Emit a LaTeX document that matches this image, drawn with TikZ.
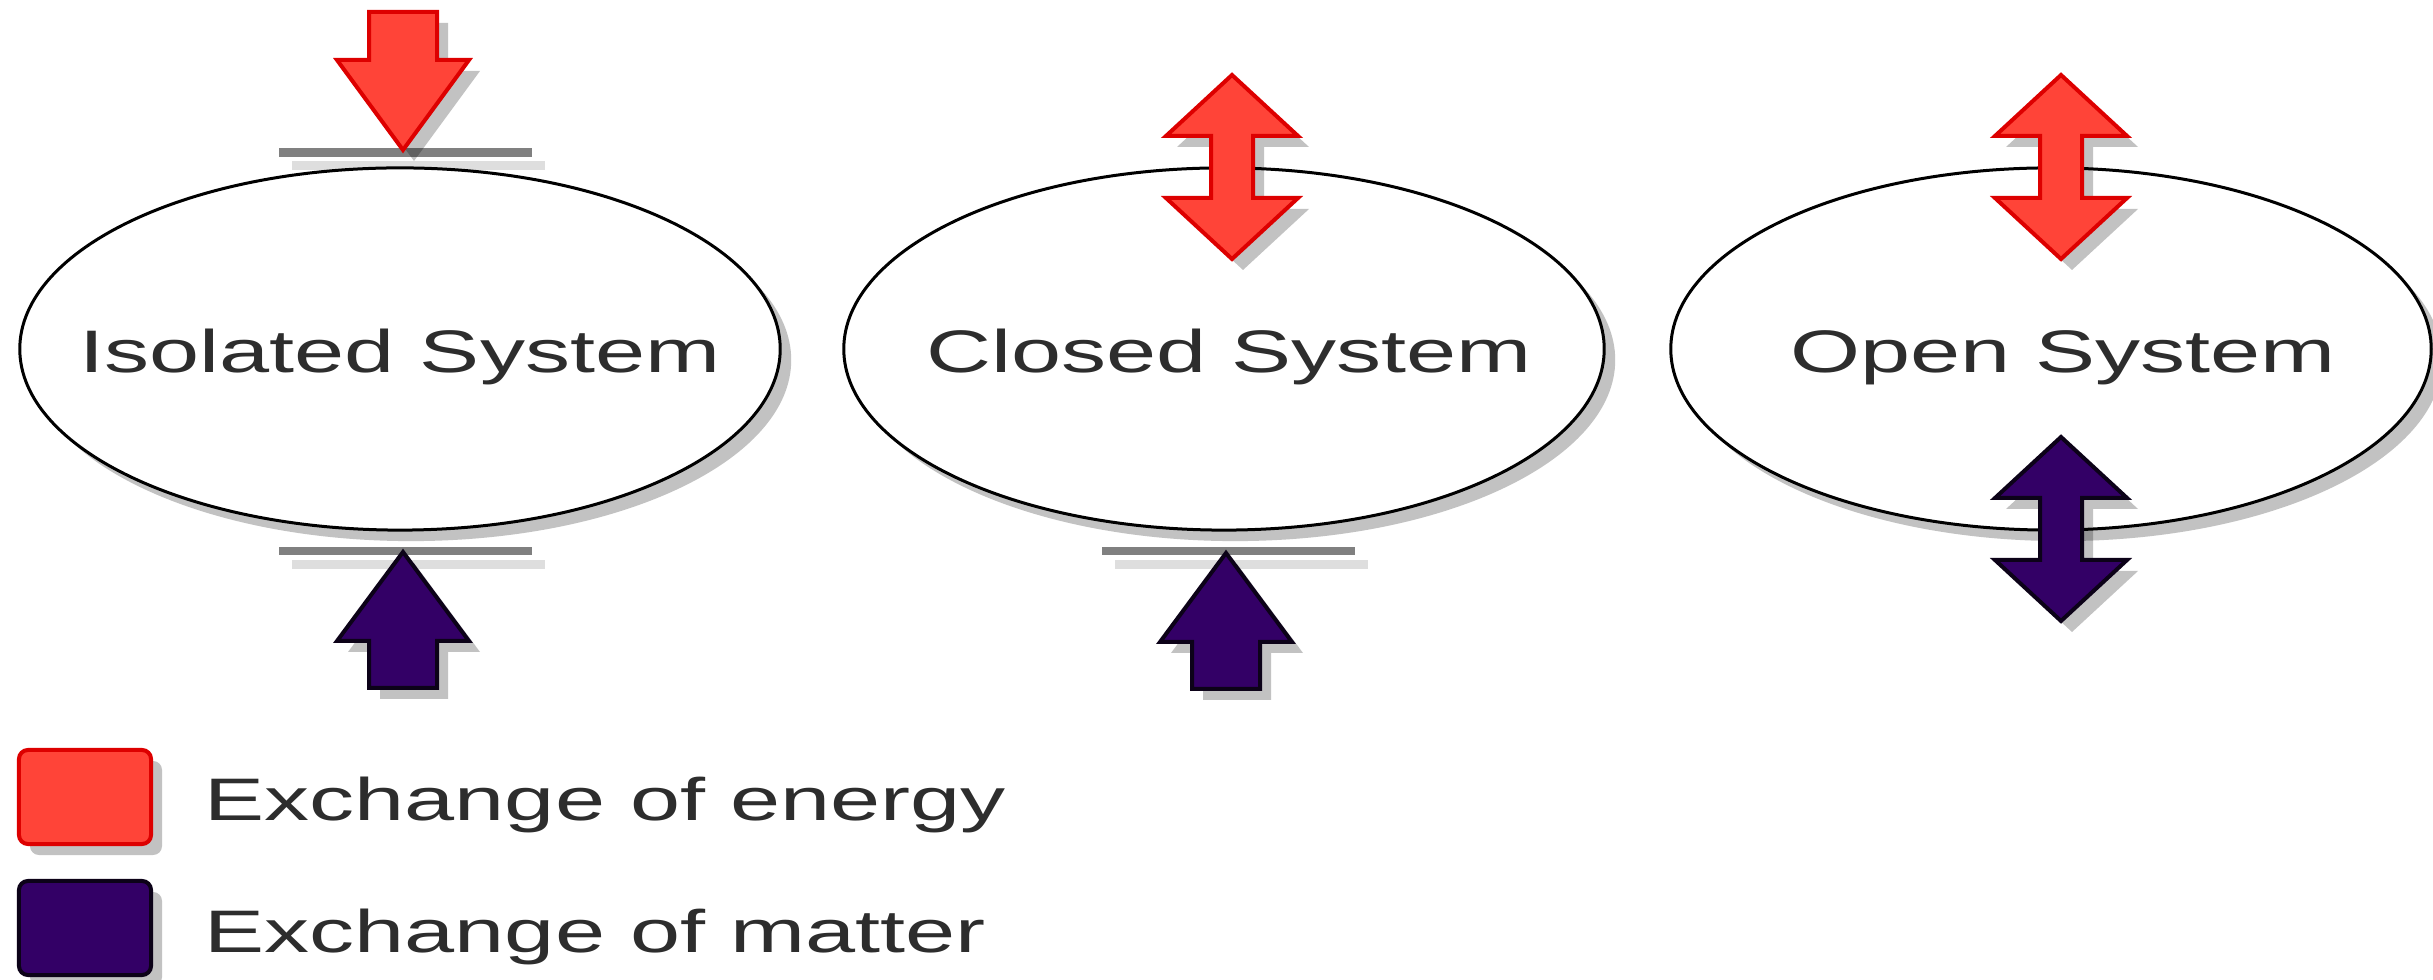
\documentclass[tikz,border=0pt]{standalone}
\usepackage{fontspec}
\setmainfont{Liberation Sans}
\usetikzlibrary{shapes.geometric,shadows}
\definecolor{ered}{RGB}{255,68,56}
\definecolor{eredb}{RGB}{221,0,0}
\definecolor{mpur}{RGB}{51,0,102}
\definecolor{mpurb}{RGB}{12,2,24}
\definecolor{barc}{RGB}{128,128,128}
\definecolor{barl}{RGB}{222,222,222}
\definecolor{txt}{RGB}{45,45,45}
\newcommand\wide[1]{\scalebox{1.5}[1]{#1}}
\tikzset{
  shd/.style={drop shadow={shadow xshift=0.11cm, shadow yshift=-0.11cm, fill=black, opacity=0.24}},
  sys/.style={ellipse, draw=black, fill=white, line width=0.03cm, minimum width=7.6cm, minimum height=3.62cm, inner sep=0pt, outer sep=0pt, shd},
  lbl/.style={text=txt, font=\fontsize{17.07}{20}\selectfont, inner sep=0pt},
  shade/.style={fill=black, fill opacity=0.24, shift={(11,11)}},
  energy/.style={fill=ered, draw=eredb, line width=0.04cm, line join=miter},
  matter/.style={fill=mpur, draw=mpurb, line width=0.04cm, line join=miter},
  legbox/.style={rectangle, rounded corners=0.09cm, minimum width=1.32cm, minimum height=0.94cm, line width=0.04cm, inner sep=0pt, shd},
}
\newcommand\downarr[3]{%
  \begin{scope}[shift={(#1,#2)}]
    \fill[shade] (0,0) -- (-66,-90) -- (-34,-90) -- (-34,-138) -- (34,-138) -- (34,-90) -- (66,-90) -- cycle;
    \draw[#3] (0,0) -- (-66,-90) -- (-34,-90) -- (-34,-138) -- (34,-138) -- (34,-90) -- (66,-90) -- cycle;
  \end{scope}}
\newcommand\uparr[3]{%
  \begin{scope}[shift={(#1,#2)}]
    \fill[shade] (0,0) -- (-66,89) -- (-34,89) -- (-34,136) -- (34,136) -- (34,89) -- (66,89) -- cycle;
    \draw[#3] (0,0) -- (-66,89) -- (-34,89) -- (-34,136) -- (34,136) -- (34,89) -- (66,89) -- cycle;
  \end{scope}}
\newcommand\dblarr[3]{%
  \begin{scope}[shift={(#1,#2)}]
    \fill[shade] (0,-92) -- (66,-31) -- (21,-31) -- (21,31) -- (66,31) -- (0,92) -- (-66,31) -- (-21,31) -- (-21,-31) -- (-66,-31) -- cycle;
    \draw[#3] (0,-92) -- (66,-31) -- (21,-31) -- (21,31) -- (66,31) -- (0,92) -- (-66,31) -- (-21,31) -- (-21,-31) -- (-66,-31) -- cycle;
  \end{scope}}
\begin{document}
\begin{tikzpicture}[x=0.01cm, y=-0.01cm]
\useasboundingbox (0,0) rectangle (2433,980);
% light bar shadows
\fill[barl] (292,161) rectangle (545,170);
\fill[barl] (292,560) rectangle (545,569);
\fill[barl] (1115,560) rectangle (1368,569);
% systems
\node[sys] (iso) at (400,349) {};
\node[sys] (clo) at (1224,349) {};
\node[sys] (ope) at (2051,349) {};
\node[lbl, anchor=base] (isot) at (400,373) {\wide{Isolated System}};
\node[lbl, anchor=base] (clot) at (1229,373) {\wide{Closed System}};
\node[lbl, anchor=base] (opet) at (2063,373) {\wide{Open System}};
% walls
\fill[barc] (279,148) rectangle (532,157);
\fill[barc] (279,547) rectangle (532,555);
\fill[barc] (1102,547) rectangle (1355,555);
% arrows
\downarr{403}{150}{energy}
\uparr{403}{552}{matter}
\dblarr{1232}{167}{energy}
\uparr{1226}{553}{matter}
\dblarr{2061}{167}{energy}
\dblarr{2061}{529}{matter}
% legend
\node[legbox, fill=ered, draw=eredb] (legE) at (85,797) {};
\node[legbox, fill=mpur, draw=mpurb] (legM) at (85,928) {};
\node[lbl, anchor=base west] (legEt) at (204,821) {\wide{Exchange of energy}};
\node[lbl, anchor=base west] (legMt) at (204,953) {\wide{Exchange of matter}};
\end{tikzpicture}
\end{document}
